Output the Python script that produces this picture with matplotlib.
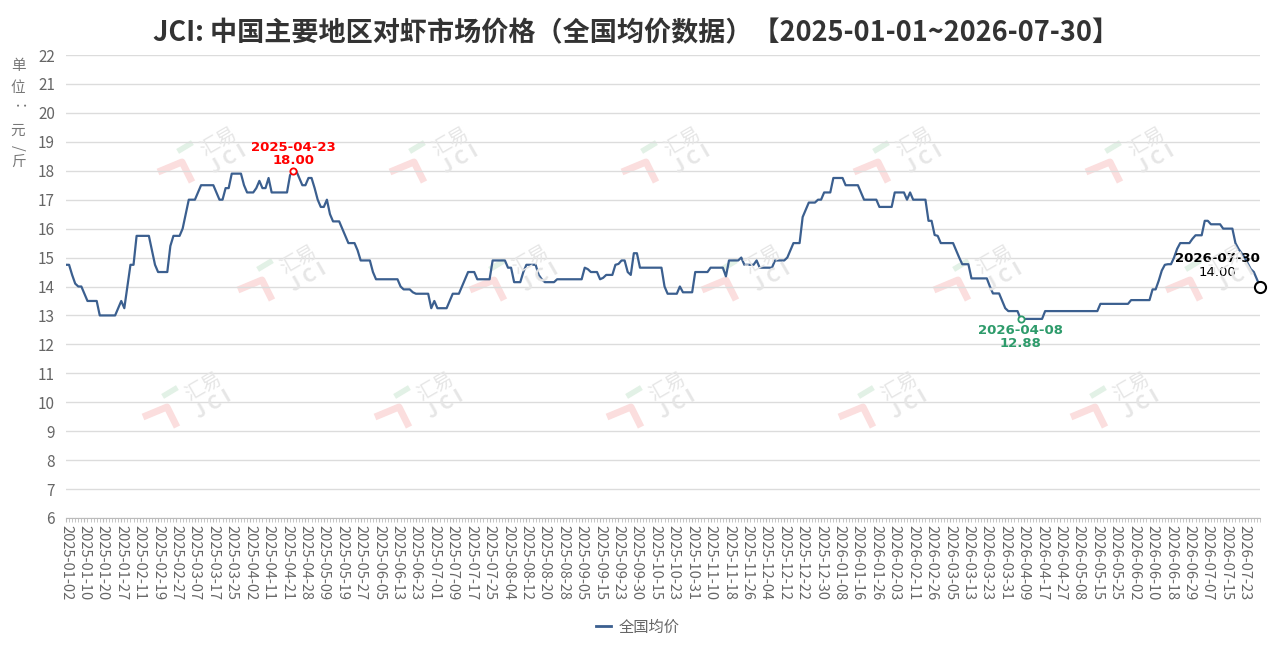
import matplotlib
matplotlib.use('Agg')
import matplotlib.pyplot as plt
from matplotlib.lines import Line2D

plt.rcParams['font.family'] = ['Noto Sans CJK SC', 'DejaVu Sans']

# x-axis labels, one every 6 working days
tick_dates = [
    '2025-01-02', '2025-01-10', '2025-01-20', '2025-01-27', '2025-02-11', '2025-02-19',
    '2025-02-27', '2025-03-07', '2025-03-17', '2025-03-25', '2025-04-02', '2025-04-11',
    '2025-04-21', '2025-04-28', '2025-05-09', '2025-05-19', '2025-05-27', '2025-06-05',
    '2025-06-13', '2025-06-23', '2025-07-01', '2025-07-09', '2025-07-17', '2025-07-25',
    '2025-08-04', '2025-08-12', '2025-08-20', '2025-08-28', '2025-09-05', '2025-09-15',
    '2025-09-23', '2025-09-30', '2025-10-15', '2025-10-23', '2025-10-31', '2025-11-10',
    '2025-11-18', '2025-11-26', '2025-12-04', '2025-12-12', '2025-12-22', '2025-12-30',
    '2026-01-08', '2026-01-16', '2026-01-26', '2026-02-03', '2026-02-11', '2026-02-26',
    '2026-03-05', '2026-03-13', '2026-03-23', '2026-03-31', '2026-04-09', '2026-04-17',
    '2026-04-27', '2026-05-08', '2026-05-15', '2026-05-25', '2026-06-02', '2026-06-10',
    '2026-06-18', '2026-06-29', '2026-07-07', '2026-07-15', '2026-07-23',
]

# national average price (元/斤), one row per label interval
prices = [
    14.75, 14.75, 14.4, 14.1, 14.0, 14.0,
    13.75, 13.5, 13.5, 13.5, 13.5, 13.0,
    13.0, 13.0, 13.0, 13.0, 13.0, 13.25,
    13.5, 13.25, 14.0, 14.75, 14.75, 15.75,
    15.75, 15.75, 15.75, 15.75, 15.25, 14.75,
    14.5, 14.5, 14.5, 14.5, 15.4, 15.75,
    15.75, 15.75, 16.0, 16.5, 17.0, 17.0,
    17.0, 17.25, 17.5, 17.5, 17.5, 17.5,
    17.5, 17.25, 17.0, 17.0, 17.4, 17.4,
    17.9, 17.9, 17.9, 17.9, 17.5, 17.25,
    17.25, 17.25, 17.4, 17.65, 17.4, 17.4,
    17.75, 17.25, 17.25, 17.25, 17.25, 17.25,
    17.25, 17.85, 18.0, 18.0, 17.75, 17.5,
    17.5, 17.75, 17.75, 17.4, 17.0, 16.75,
    16.75, 17.0, 16.5, 16.25, 16.25, 16.25,
    16.0, 15.75, 15.5, 15.5, 15.5, 15.25,
    14.9, 14.9, 14.9, 14.9, 14.5, 14.25,
    14.25, 14.25, 14.25, 14.25, 14.25, 14.25,
    14.25, 14.0, 13.9, 13.9, 13.9, 13.8,
    13.75, 13.75, 13.75, 13.75, 13.75, 13.25,
    13.5, 13.25, 13.25, 13.25, 13.25, 13.5,
    13.75, 13.75, 13.75, 14.0, 14.25, 14.5,
    14.5, 14.5, 14.25, 14.25, 14.25, 14.25,
    14.25, 14.9, 14.9, 14.9, 14.9, 14.9,
    14.65, 14.65, 14.15, 14.15, 14.15, 14.5,
    14.75, 14.75, 14.75, 14.75, 14.4, 14.25,
    14.15, 14.15, 14.15, 14.15, 14.25, 14.25,
    14.25, 14.25, 14.25, 14.25, 14.25, 14.25,
    14.25, 14.65, 14.6, 14.5, 14.5, 14.5,
    14.25, 14.3, 14.4, 14.4, 14.4, 14.75,
    14.78, 14.9, 14.9, 14.5, 14.4, 15.15,
    15.15, 14.65, 14.65, 14.65, 14.65, 14.65,
    14.65, 14.65, 14.65, 14.0, 13.75, 13.75,
    13.75, 13.75, 14.0, 13.8, 13.8, 13.8,
    13.8, 14.5, 14.5, 14.5, 14.5, 14.5,
    14.65, 14.65, 14.65, 14.65, 14.65, 14.35,
    14.9, 14.9, 14.9, 14.9, 15.0, 14.75,
    14.75, 14.75, 14.75, 14.9, 14.65, 14.65,
    14.65, 14.65, 14.65, 14.9, 14.9, 14.9,
    14.9, 15.0, 15.25, 15.5, 15.5, 15.5,
    16.4, 16.65, 16.9, 16.9, 16.9, 17.0,
    17.0, 17.25, 17.25, 17.25, 17.75, 17.75,
    17.75, 17.75, 17.5, 17.5, 17.5, 17.5,
    17.5, 17.25, 17.0, 17.0, 17.0, 17.0,
    17.0, 16.75, 16.75, 16.75, 16.75, 16.75,
    17.25, 17.25, 17.25, 17.25, 17.0, 17.25,
    17.0, 17.0, 17.0, 17.0, 17.0, 16.27,
    16.27, 15.78, 15.75, 15.5, 15.5, 15.5,
    15.5, 15.5, 15.25, 15.0, 14.77, 14.77,
    14.77, 14.28, 14.28, 14.28, 14.28, 14.28,
    14.28, 14.0, 13.76, 13.76, 13.76, 13.5,
    13.25, 13.15, 13.15, 13.15, 13.15, 12.88,
    12.88, 12.88, 12.88, 12.88, 12.88, 12.88,
    12.88, 13.15, 13.15, 13.15, 13.15, 13.15,
    13.15, 13.15, 13.15, 13.15, 13.15, 13.15,
    13.15, 13.15, 13.15, 13.15, 13.15, 13.15,
    13.15, 13.4, 13.4, 13.4, 13.4, 13.4,
    13.4, 13.4, 13.4, 13.4, 13.4, 13.53,
    13.53, 13.53, 13.53, 13.53, 13.53, 13.53,
    13.9, 13.9, 14.2, 14.55, 14.75, 14.77,
    14.77, 15.0, 15.3, 15.5, 15.5, 15.5,
    15.5, 15.65, 15.77, 15.77, 15.77, 16.27,
    16.27, 16.15, 16.15, 16.15, 16.15, 16.0,
    16.0, 16.0, 16.0, 15.5, 15.3, 15.15,
    15.0, 14.8, 14.6, 14.5, 14.25, 14.0,
]

peak_date = '2025-04-23'
low_date = '2026-04-08'
last_date = '2026-07-30'

title = 'JCI: 中国主要地区对虾市场价格（全国均价数据）【2025-01-01~2026-07-30】'
series_name = '全国均价'
unit_chars = ['单', '位', '：', '元', '/', '斤']

line_color = '#3b5f8f'
W, H = 1276, 651

fig = plt.figure(figsize=(W / 100, H / 100), dpi=100)
ax = fig.add_axes([66 / W, 1 - 518 / H, (1260 - 66) / W, (518 - 55) / H])


def px(x, y):
    # pixel position (from top-left) -> figure fraction
    return x / W, 1 - y / H


# faint "汇易 JCI" watermarks
wm_rows = [(150, 220), (268, 300), (395, 205)]
for wy, wx0 in wm_rows:
    for k in range(5):
        wx = wx0 + 232 * k
        hx = [wx - 62, wx - 38, wx - 28]
        hy = [wy + 22, wy + 12, wy + 32]
        fig.add_artist(Line2D([px(a, b)[0] for a, b in zip(hx, hy)],
                              [px(a, b)[1] for a, b in zip(hx, hy)],
                              color='#fbdede', lw=5, zorder=0,
                              solid_capstyle='butt'))
        fig.add_artist(Line2D([px(wx - 40, wy)[0], px(wx - 30, wy - 6)[0]],
                              [px(wx - 40, wy)[1], px(wx - 30, wy - 6)[1]],
                              color='#e2f1e6', lw=4, zorder=0))
        fig.text(*px(wx - 2, wy - 8), '汇易', rotation=30, fontsize=14,
                 color='#e6e6e6', ha='center', va='center', zorder=0)
        fig.text(*px(wx + 8, wy + 10), 'J C I', rotation=30, fontsize=14,
                 color='#e6e6e6', ha='center', va='center', zorder=0,
                 fontweight='bold')

x = list(range(len(prices)))
ax.plot(x, prices, color=line_color, lw=1.6, zorder=3, solid_joinstyle='round')

ax.set_xlim(0, len(prices) - 1)
ax.set_ylim(6, 22)
ax.set_yticks(range(6, 23))
ax.grid(axis='y', color='#dcdcdc', lw=1)
ax.set_axisbelow(True)
ax.patch.set_alpha(0)

ax.set_xticks(range(0, len(prices), 6))
ax.set_xticklabels(tick_dates, rotation=-90, ha='center', va='top',
                   fontsize=10.5, color='#666666')
ax.set_xticks(range(len(prices)), minor=True)
ax.tick_params(axis='x', which='both', length=3, color='#bbbbbb', pad=2)
ax.tick_params(axis='y', length=0, pad=8, labelsize=11, labelcolor='#666666')
for s in ['left', 'right', 'top']:
    ax.spines[s].set_visible(False)
ax.spines['bottom'].set_color('#bbbbbb')

# unit label, stacked vertically
unit_y = [66, 88, 110, 131, 148, 162]
for ch, uy in zip(unit_chars, unit_y):
    rot = -90 if ch in '/：' else 0
    fig.text(*px(18, uy), ch, fontsize=10.5, color='#777777',
             ha='center', va='center', rotation=rot)

# max point
i_max = prices.index(max(prices))
ax.plot(i_max, prices[i_max], 'o', ms=4.5, mfc='white', mec='red', mew=1.3, zorder=5)
ax.annotate(f'{peak_date}\n{prices[i_max]:.2f}', (i_max, prices[i_max]),
            xytext=(0, 3), textcoords='offset points', ha='center', va='bottom',
            color='red', fontsize=9.5, fontweight='bold', linespacing=1.0,
            family=['DejaVu Sans'])

# min point
i_min = prices.index(min(prices))
ax.plot(i_min, prices[i_min], 'o', ms=4.5, mfc='white', mec='#2e9b6b', mew=1.3, zorder=5)
ax.annotate(f'{low_date}\n{prices[i_min]:.2f}', (i_min, prices[i_min]),
            xytext=(0, -4), textcoords='offset points', ha='center', va='top',
            color='#2e9b6b', fontsize=9.5, fontweight='bold', linespacing=1.0,
            family=['DejaVu Sans'])

# last point, label sits above-left of the marker
i_last = len(prices) - 1
ax.plot(i_last, prices[i_last], 'o', ms=8, mfc='white', mec='black', mew=1.5,
        zorder=6, clip_on=False)
ax.annotate(last_date, (i_last, prices[i_last]), xytext=(-31, 20),
            textcoords='offset points', ha='center', va='center',
            color='black', fontsize=9.5, fontweight='bold', family=['DejaVu Sans'],
            zorder=7)
ax.annotate(f'{prices[i_last]:.2f}', (i_last, prices[i_last]), xytext=(-31, 10),
            textcoords='offset points', ha='center', va='center',
            color='black', fontsize=9.5, family=['DejaVu Sans'], zorder=7)

fig.text(*px(636, 33), title, ha='center', va='center', fontsize=19.5,
         fontweight='bold', color='#333333')

handle = Line2D([], [], color=line_color, lw=2)
fig.legend([handle], [series_name], loc='center', bbox_to_anchor=px(638, 627),
           frameon=False, fontsize=11, handlelength=1.0, handletextpad=0.5,
           labelcolor='#666666')

fig.savefig('out.png', dpi=100)
